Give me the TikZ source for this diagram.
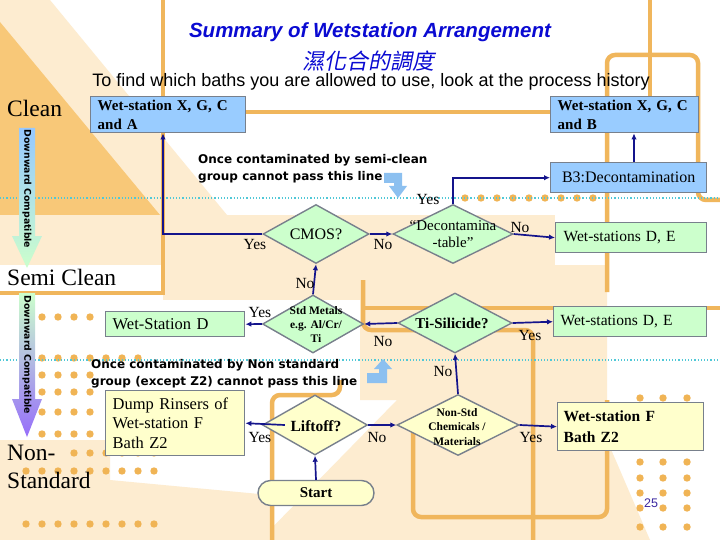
\documentclass[tikz,border=0pt]{standalone}
\usepackage{fontspec}
\setmainfont{Liberation Serif}
\newfontfamily\arialf{Liberation Sans}
\newfontfamily\comicf{DejaVu Sans}
\newfontfamily\cjkf[FakeSlant=0.2]{Noto Sans CJK TC}
\usetikzlibrary{shapes.geometric,shapes.misc,arrows.meta,calc}
\definecolor{navy}{RGB}{20,20,140}
\definecolor{titleblue}{RGB}{10,10,210}
\definecolor{bordergray}{RGB}{120,128,140}
\definecolor{boxblue}{RGB}{153,204,255}
\definecolor{boxgreen}{RGB}{204,255,204}
\definecolor{boxyellow}{RGB}{255,255,204}
\definecolor{pale}{RGB}{253,236,208}
\definecolor{orangefill}{RGB}{248,200,120}
\definecolor{orangeline}{RGB}{240,182,92}
\definecolor{dotorange}{RGB}{240,180,85}
\definecolor{cyanline}{RGB}{80,200,215}
\definecolor{lightarrow}{RGB}{140,192,240}
\definecolor{dcblue}{RGB}{150,200,255}
\definecolor{dcgreen}{RGB}{204,255,204}
\definecolor{dcpurple}{RGB}{150,110,250}
\definecolor{pagenum}{RGB}{60,40,160}
\tikzset{
  bx/.style={draw=bordergray, line width=1.4pt, rectangle, anchor=north west, inner ysep=0pt, align=left},
  bluebx/.style={bx, fill=boxblue},
  greenbx/.style={bx, fill=boxgreen},
  yellowbx/.style={bx, fill=boxyellow},
  dia/.style={diamond, draw=bordergray, line width=1.4pt, inner sep=0pt},
  dtxt/.style={inner sep=0pt, align=center},
  arr/.style={draw=navy, line width=1.7pt, -{Latex[length=6pt,width=5.5pt]}},
  lbl/.style={inner sep=0pt, font=\fontsize{15.5}{16}\selectfont},
  side/.style={inner sep=0pt, anchor=base west, font=\fontsize{23.5}{24}\selectfont},
  orl/.style={draw=orangeline, line width=4.5pt},
  cmt/.style={inner sep=0pt, anchor=north west, align=left, font=\comicf\bfseries\fontsize{12}{17}\selectfont},
  dwn/.style={inner sep=0pt, rotate=-90, font=\comicf\bfseries\fontsize{9.3}{10}\selectfont},
}
\begin{document}
\begin{tikzpicture}[x=1pt,y=-1pt]
\useasboundingbox (0,0) rectangle (720,540);
\fill[white] (0,0) rectangle (720,540);
% ---- background decoration
\fill[pale] (0,0) -- (50,0) -- (227,215) -- (0,215) -- cycle;
\fill[orangefill] (0,22) -- (160,215) -- (0,215) -- cycle;
\fill[pale] (0,215) rectangle (555,265);
\fill[pale] (163,265) rectangle (360,300);
\fill[pale] (360,265) -- (607,265) -- (607,540) -- (260,540) -- (397,400) -- (360,400) -- cycle;
\fill[pale] (0,440) -- (110,440) -- (110,480) -- (270,495) -- (270,540) -- (0,540) -- cycle;
\fill[pale] (607,440) -- (650,540) -- (607,540) -- cycle;
\draw[orl] (163,0) -- (163,293) -- (0,293);
\draw[orl] (163,112) -- (650,112) -- (650,0);
\draw[orl, rounded corners=8pt] (607,292) -- (607,55) -- (698,55) -- (698,200) -- (720,200);
\draw[orl, rounded corners=8pt] (363,280) -- (363,330) -- (533,330) -- (533,540);
\draw[orl] (363,308) -- (720,308);
\draw[orl, rounded corners=8pt] (413,430) -- (413,517) -- (607,517) -- (607,400);
\draw[orl, rounded corners=8pt] (272,540) -- (272,395) -- (340,395) -- (340,380);
% dots
\foreach \x in {465,481,...,593} \fill[dotorange] (\x,198) circle (3.7);
\foreach \x in {42,58,74,90} {\fill[dotorange] (\x,317) circle (3.7);
  \fill[dotorange] (\x,375) circle (3.7); \fill[dotorange] (\x,392) circle (3.7);
  \fill[dotorange] (\x,412) circle (3.7); \fill[dotorange] (\x,434) circle (3.7);}
\foreach \x in {42,58,...,138} \fill[dotorange] (\x,358) circle (3.7);
\foreach \x in {74,90,...,154} \fill[dotorange] (\x,453) circle (3.7);
\foreach \x in {26,42,...,154} {\fill[dotorange] (\x,471) circle (3.7); \fill[dotorange] (\x,524) circle (3.7);}
\foreach \x in {640,663,687} \foreach \y in {398,462,478,493,508,527} \fill[dotorange] (\x,\y) circle (3.7);
% cyan dotted lines
\draw[cyanline, dotted, line width=1.2pt] (0,198) -- (720,198);
\draw[cyanline, dotted, line width=1.2pt] (0,360) -- (720,360);
% ---- titles
\node[inner sep=0pt, anchor=base, text=titleblue, font=\arialf\bfseries\itshape\fontsize{20.5}{22}\selectfont] (title) at (370,38) {Summary of Wetstation Arrangement};
\node[inner sep=0pt, text=titleblue, font=\cjkf\fontsize{22}{24}\selectfont] (ctitle) at (368,61) {濕化合的調度};
\node[inner sep=0pt, anchor=base, font=\arialf\fontsize{18}{19}\selectfont] (subtitle) at (371,87) {To find which baths you are allowed to use, look at the process history};
% side labels
\node[side] (clean) at (7,117) {Clean};
\node[side] (semi) at (7,285) {Semi Clean};
\node[side] (non1) at (7,460) {Non-};
\node[side] (non2) at (7,488) {Standard};
% downward compatible arrows
\path[top color=dcblue, bottom color=dcgreen] (19,128) -- (35,128) -- (35,236) -- (42,236) -- (27,268) -- (12,236) -- (19,236) -- cycle;
\node[dwn] (dc1) at (27,189) {Downward Compatible};
\path[top color=dcgreen, bottom color=dcpurple] (19,293) -- (35,293) -- (35,399) -- (42,399) -- (27,437) -- (12,399) -- (19,399) -- cycle;
\node[dwn] (dc2) at (27,355) {Downward Compatible};
% comments
\node[cmt] (cm1) at (198,154) {Once contaminated by semi-clean\\group cannot pass this line};
\node[cmt] (cm2) at (91,359) {Once contaminated by Non standard\\group (except Z2) cannot pass this line};
\fill[lightarrow] (384,173) -- (402,173) -- (402,186) -- (407,186) -- (398,198) -- (389,186) -- (394,186) -- (394,183) -- (384,183) -- cycle;
\fill[lightarrow] (367,383) -- (387,383) -- (387,369) -- (392,369) -- (383,359) -- (374,369) -- (379,369) -- (379,373) -- (367,373) -- cycle;
% ---- boxes
\node[bluebx, minimum width=155pt, minimum height=36pt, text width=141pt, inner xsep=7pt, font=\bfseries\fontsize{15}{18.5}\selectfont] (boxA) at (90,96) {Wet-station X, G, C\\and A};
\node[bluebx, minimum width=148pt, minimum height=36pt, text width=134pt, inner xsep=7pt, font=\bfseries\fontsize{15}{18.5}\selectfont] (boxB) at (550,96) {Wet-station X, G, C\\and B};
\node[bluebx, minimum width=156pt, minimum height=30pt, text width=142pt, inner xsep=7pt, align=center, font=\fontsize{16}{18}\selectfont] (b3) at (550,162) {B3:Decontamination};
\node[greenbx, minimum width=151pt, minimum height=30pt, text width=135pt, inner xsep=8pt, font=\fontsize{15.5}{18}\selectfont] (de1) at (555,222) {Wet-stations D, E};
\node[greenbx, minimum width=153pt, minimum height=30pt, text width=139pt, inner xsep=7pt, font=\fontsize{15.5}{18}\selectfont] (de2) at (553,306) {Wet-stations D, E};
\node[greenbx, minimum width=139pt, minimum height=25pt, text width=125pt, inner xsep=7pt, font=\fontsize{16.5}{18}\selectfont] (wsd) at (105,311) {Wet-Station D};
\node[yellowbx, minimum width=139pt, minimum height=65pt, text width=125pt, inner xsep=7pt, font=\fontsize{16.5}{19.5}\selectfont] (dump) at (105,390) {Dump Rinsers of\\Wet-station F\\Bath Z2};
\node[yellowbx, minimum width=146pt, minimum height=48pt, text width=134pt, inner xsep=6pt, font=\bfseries\fontsize{15.5}{21}\selectfont] (wsf) at (557,402) {Wet-station F\\Bath Z2};
\node[rounded rectangle, draw=bordergray, line width=1.4pt, fill=boxyellow, minimum width=116pt, minimum height=25pt, inner sep=0pt, font=\bfseries\fontsize{15}{16}\selectfont] (start) at (316,493) {Start};
% ---- diamonds
\node[dia, fill=boxgreen, minimum width=106pt, minimum height=59pt] (cmos) at (316,234) {};
\node[dtxt, font=\fontsize{16}{17}\selectfont] (cmost) at (316,234) {CMOS?};
\node[dia, fill=boxgreen, minimum width=120pt, minimum height=59pt] (dec) at (453,234) {};
\node[dtxt, font=\fontsize{15}{16.5}\selectfont] (dect) at (453,234) {“Decontamina\\-table”};
\node[dia, fill=boxgreen, minimum width=101pt, minimum height=58pt] (std) at (313,324) {};
\node[dtxt, font=\bfseries\fontsize{11.5}{14}\selectfont] (stdt) at (316,325) {Std Metals\\e.g. Al/Cr/\\Ti};
\node[dia, fill=boxgreen, minimum width=114pt, minimum height=60pt] (ti) at (455,323) {};
\node[dtxt, font=\bfseries\fontsize{15}{16}\selectfont] (tit) at (452,323) {Ti-Silicide?};
\node[dia, fill=boxyellow, minimum width=105pt, minimum height=60pt] (lift) at (315,425) {};
\node[dtxt, font=\bfseries\fontsize{15.5}{16}\selectfont] (liftt) at (316,426) {Liftoff?};
\node[dia, fill=boxyellow, minimum width=122pt, minimum height=61pt] (nonstd) at (458,425) {};
\node[dtxt, font=\bfseries\fontsize{11.5}{14.5}\selectfont] (nonstdt) at (457,427) {Non-Std\\Chemicals /\\Materials};
% ---- connectors
\coordinate (c1) at (163,234);
\draw[arr] (cmos.west) -- (c1) -- (c1 |- boxA.south);
\draw[arr] (cmos.east) -- (dec.west);
\draw[arr] (dec.north) |- (b3.west);
\draw[arr] (dec.east) -- (de1.west);
\coordinate (c2) at (634,162);
\draw[arr] (c2) -- (c2 |- boxB.south);
\draw[arr] (std.north) -- (cmos.south);
\draw[arr] (std.west) -- (wsd.east);
\draw[arr] (ti.west) -- (std.east);
\draw[arr] (ti.east) -- (de2.west);
\draw[arr] (nonstd.north) -- (ti.south);
\draw[arr] ([xshift=23pt]lift.west) -- (dump.east);
\draw[arr] (lift.east) -- (nonstd.west);
\draw[arr] (nonstd.east) -- (wsf.west);
\draw[arr] (start.north) -- (lift.south);
% ---- yes/no labels
\node[lbl] (l1) at (255,245) {Yes};
\node[lbl] (l2) at (383,245) {No};
\node[lbl] (l3) at (428,200) {Yes};
\node[lbl] (l4) at (520,228) {No};
\node[lbl] (l5) at (305,283) {No};
\node[lbl] (l6) at (260,312) {Yes};
\node[lbl] (l7) at (383,341) {No};
\node[lbl] (l8) at (530,335) {Yes};
\node[lbl] (l9) at (443,371) {No};
\node[lbl] (l10) at (260,437) {Yes};
\node[lbl] (l11) at (377,437) {No};
\node[lbl] (l12) at (531,437) {Yes};
% page number
\node[inner sep=0pt, text=pagenum, font=\arialf\fontsize{12.5}{13}\selectfont] (pg) at (651,503) {25};
\end{tikzpicture}
\end{document}
